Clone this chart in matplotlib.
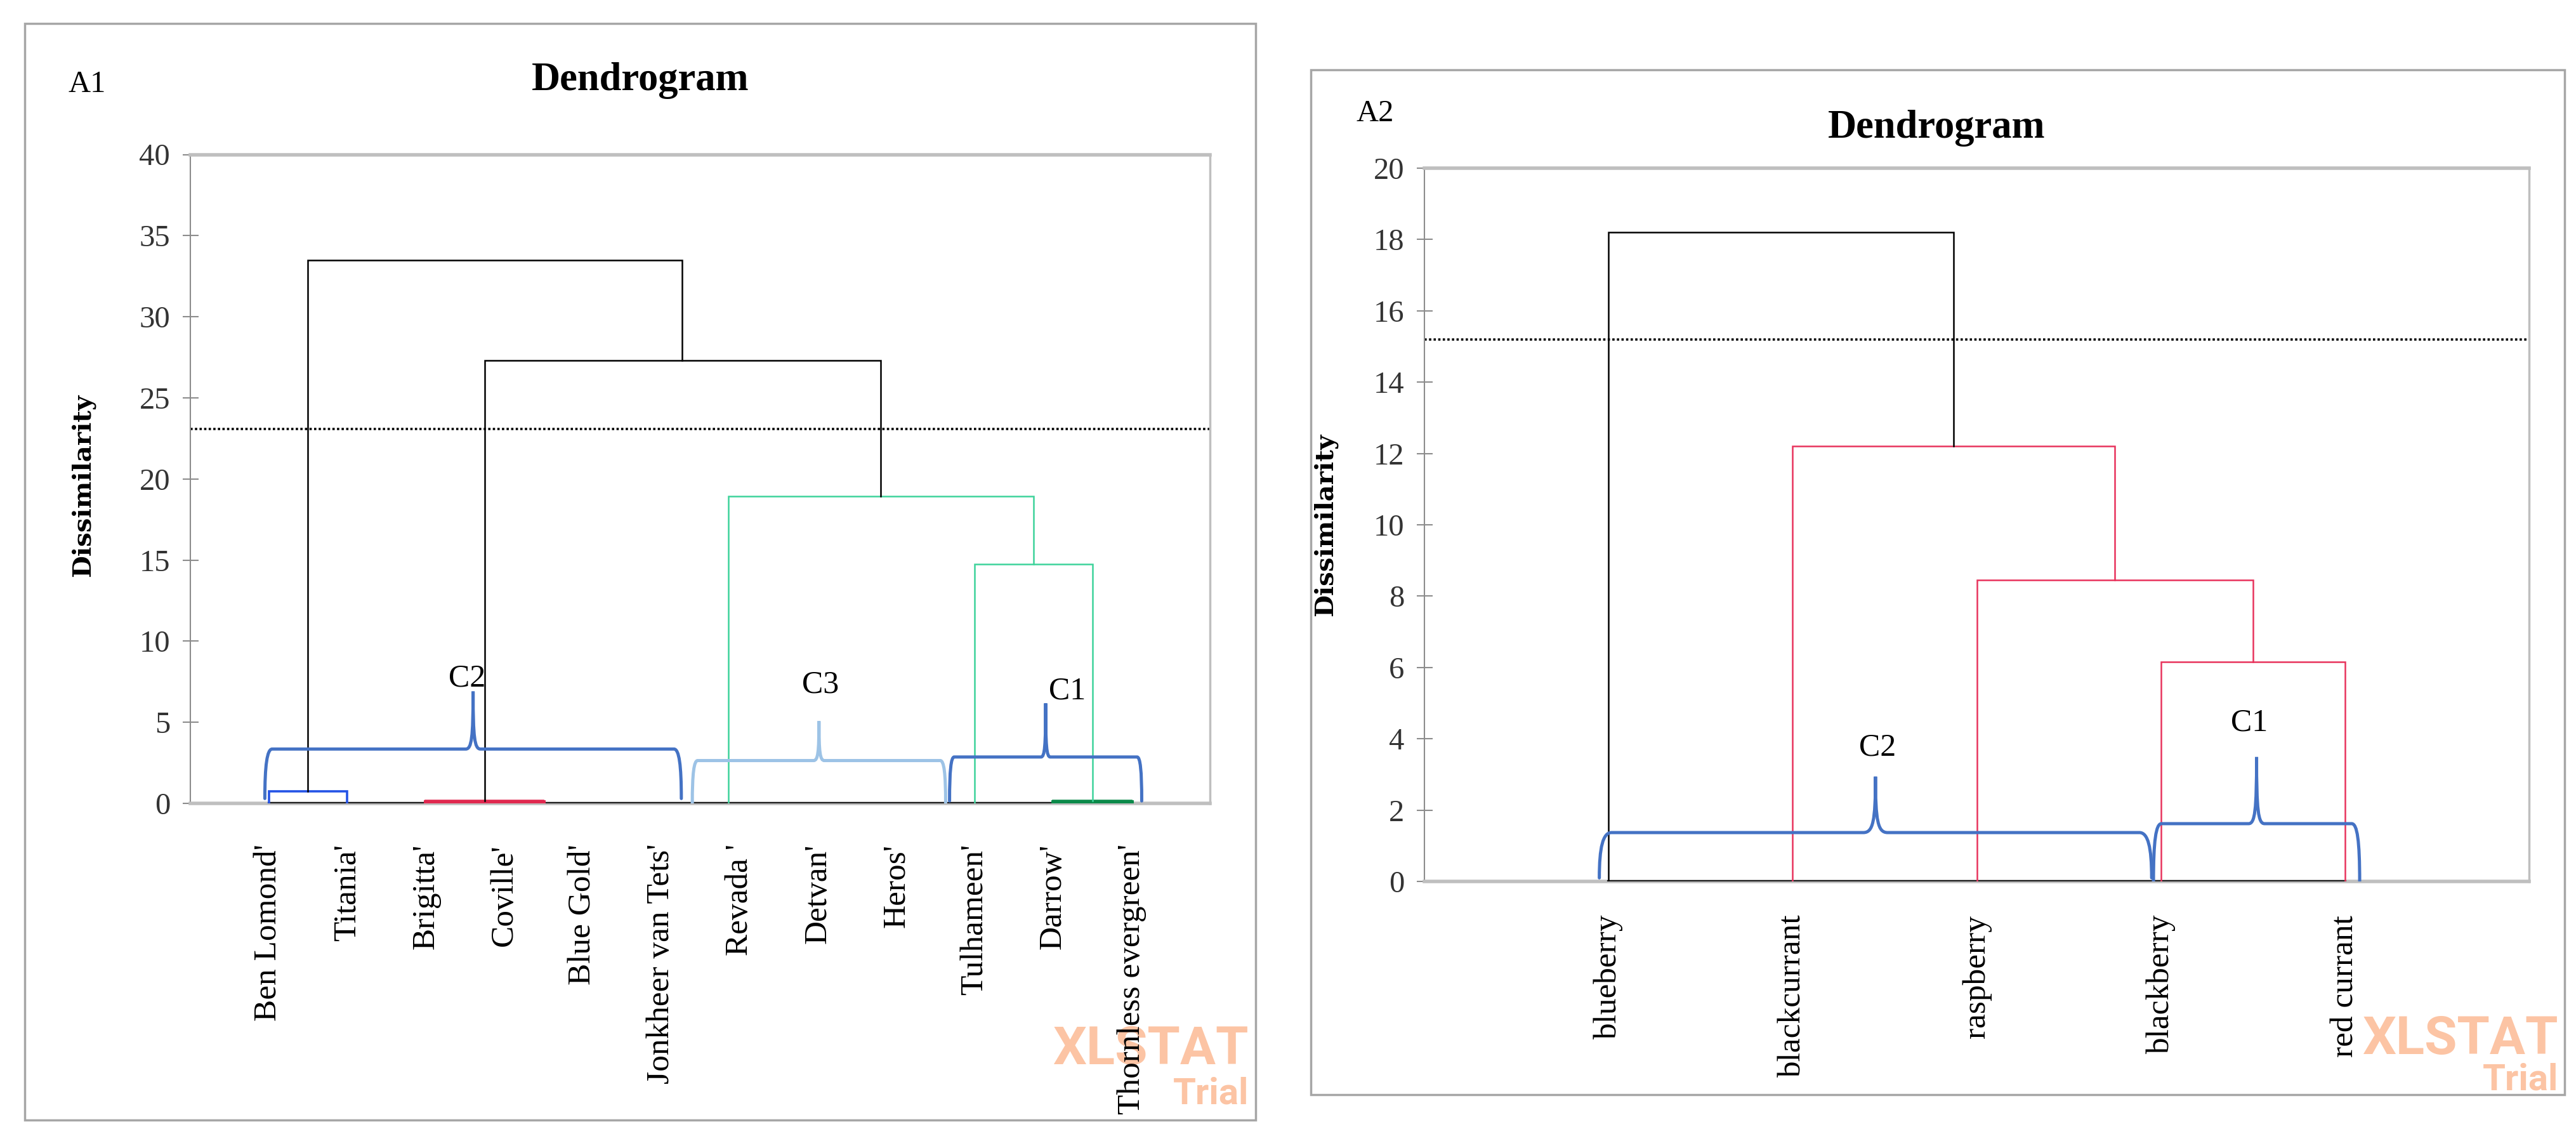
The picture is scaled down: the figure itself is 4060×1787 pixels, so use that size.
import numpy as np
import matplotlib
matplotlib.use('Agg')
import matplotlib.pyplot as plt
from matplotlib.path import Path
from matplotlib.patches import PathPatch, Rectangle

plt.rcParams['font.family'] = ['Liberation Serif', 'DejaVu Serif']

# ---- data: panel A1 (cultivars) ----
leaves_a1 = ["Ben Lomond'", "Titania'", "Brigitta'", "Coville'", "Blue Gold'",
             "Jonkheer van Tets'", "Revada '", "Detvan'", "Heros'", "Tulhameen'",
             "Darrow'", "Thornless evergreen'"]
# merges: (x left, x right, height, height of left child, height of right child, colour)
merges_a1 = [
    (0.0, 1.0, 0.75, 0.0, 0.0, '#2453E6'),
    (2.0, 3.5, 0.15, 0.0, 0.0, '#E0284F'),
    (10.0, 11.0, 0.15, 0.0, 0.0, '#0B8A4A'),
    (9.0, 10.5, 14.75, 0.0, 0.15, '#3DD39B'),
    (5.86, 9.75, 18.95, 0.0, 14.75, '#3DD39B'),
    (2.75, 7.8, 27.3, 0.15, 18.95, 'black'),
    (0.5, 5.27, 33.5, 0.75, 27.3, 'black'),
]
cut_a1 = 23.1
# braces: (x start, x end, level, tip, foot, colour, label)
braces_a1 = [
    (-0.05, 5.26, 3.35, 6.9, 0.3, '#4472C4', 'C2'),
    (5.4, 8.63, 2.64, 5.07, 0.0, '#9DC3E6', 'C3'),
    (8.68, 11.13, 2.86, 6.17, 0.15, '#4472C4', 'C1'),
]
label_pos_a1 = [(2.53, 7.7), (7.03, 7.3), (10.18, 6.9)]

# ---- data: panel A2 (species) ----
leaves_a2 = ['blueberry', 'blackcurrant', 'raspberry', 'blackberry', 'red currant']
merges_a2 = [
    (3.0, 4.0, 6.15, 0.0, 0.0, '#E8335C'),
    (2.0, 3.5, 8.45, 0.0, 6.15, '#E8335C'),
    (1.0, 2.75, 12.2, 0.0, 8.45, '#E8335C'),
    (0.0, 1.875, 18.2, 0.0, 12.2, 'black'),
]
cut_a2 = 15.2
braces_a2 = [
    (-0.05, 2.95, 1.37, 2.94, 0.1, '#4472C4', 'C2'),
    (2.96, 4.08, 1.62, 3.49, 0.0, '#4472C4', 'C1'),
]
label_pos_a2 = [(1.46, 3.75), (3.48, 4.45)]

W, H = 4060, 1787
fig = plt.figure(figsize=(W / 100, H / 100), dpi=100)


def fx(px):
    return px / W


def fy(py):
    return 1 - py / H


def brace(ax, x0, x1, lev, tip, foot, color):
    xm = (x0 + x1) / 2
    dx = (x1 - x0) * 0.012 + 0.03
    dm = (x1 - x0) * 0.012 + 0.03
    verts = [(x0, foot), (x0, lev * 0.7), (x0 + dx * 0.3, lev), (x0 + dx, lev),
             (xm - dm, lev),
             (xm - dm * 0.2, lev), (xm, lev + (tip - lev) * 0.2), (xm, tip),
             (xm, lev + (tip - lev) * 0.2), (xm + dm * 0.2, lev), (xm + dm, lev),
             (x1 - dx, lev),
             (x1 - dx * 0.3, lev), (x1, lev * 0.7), (x1, foot)]
    codes = [Path.MOVETO, Path.CURVE4, Path.CURVE4, Path.CURVE4,
             Path.LINETO,
             Path.CURVE4, Path.CURVE4, Path.CURVE4,
             Path.CURVE4, Path.CURVE4, Path.CURVE4,
             Path.LINETO,
             Path.CURVE4, Path.CURVE4, Path.CURVE4]
    ax.add_patch(PathPatch(Path(verts, codes), fill=False, edgecolor=color,
                           lw=3.6, zorder=6, capstyle='round'))


def panel(rect, leaves, merges, cut, braces, lab_pos, ymax, ystep, xpad, ypad):
    ax = fig.add_axes(rect)
    n = len(leaves)
    for xl, xr, h, hl, hr, c in merges:
        lw = 2.6 if h < 1 else 1.8
        ax.plot([xl, xl, xr, xr], [hl, h, h, hr], color=c, lw=lw,
                solid_joinstyle='miter', zorder=4)
        if h < 0.5:
            ax.plot([xl, xr], [h / 2, h / 2], color=c, lw=5, zorder=4)
    ax.plot([0, n - 1], [0, 0], color='#1a1a1a', lw=3, zorder=3)
    ax.axhline(cut, color='black', lw=2.6, ls=(0, (1, 1)), zorder=2)
    for (x0, x1, lev, tip, foot, c, lab), (lx, ly) in zip(braces, lab_pos):
        brace(ax, x0, x1, lev, tip, foot, c)
        ax.text(lx, ly, lab, fontsize=36, ha='center', va='center', zorder=7)
    ax.set_xlim(-1, n)
    ax.set_ylim(0, ymax)
    ax.set_xticks(range(n))
    ax.set_xticklabels(leaves, rotation=90, fontsize=37)
    ax.set_yticks(np.arange(0, ymax + 0.1, ystep))
    ax.tick_params(axis='x', length=0, pad=xpad)
    ax.tick_params(axis='y', direction='inout', length=18, width=1.5,
                   color='#8c8c8c', labelsize=35, labelcolor='#333333', pad=ypad)
    ax.spines['left'].set_color('#8c8c8c')
    ax.spines['left'].set_linewidth(1.5)
    for s in ('top', 'bottom'):
        ax.spines[s].set_color('#bfbfbf')
        ax.spines[s].set_linewidth(4)
    ax.spines['right'].set_color('#bfbfbf')
    ax.spines['right'].set_linewidth(2.5)
    ax.set_facecolor('none')
    return ax


# frames round each panel
fig.patches.append(Rectangle((fx(39), fy(1765)), fx(1979 - 39), (1765 - 37) / H,
                             transform=fig.transFigure, fill=False,
                             edgecolor='#a6a6a6', lw=2.5))
fig.patches.append(Rectangle((fx(2066), fy(1725)), fx(4042 - 2066), (1725 - 110) / H,
                             transform=fig.transFigure, fill=False,
                             edgecolor='#a6a6a6', lw=2.5))

ax1 = panel([fx(300), fy(1266), fx(1607), (1266 - 243.5) / H], leaves_a1, merges_a1,
            cut_a1, braces_a1, label_pos_a1, 40, 5, 46, 14)
ax2 = panel([fx(2245), fy(1389), fx(1741), (1389 - 265) / H], leaves_a2, merges_a2,
            cut_a2, braces_a2, label_pos_a2, 20, 2, 38, 14)

ax1.set_ylabel('Dissimilarity', fontsize=29, fontweight='bold', family='DejaVu Serif')
ax1.yaxis.set_label_coords(fx(150 - 300) / fx(1607), 0.49)
ax2.set_ylabel('Dissimilarity', fontsize=29, fontweight='bold', family='DejaVu Serif')
ax2.yaxis.set_label_coords(fx(2108 - 2245) / fx(1741), 0.5)

fig.text(fx(1009), fy(127), 'Dendrogram', fontsize=45, fontweight='bold',
         ha='center', va='center')
fig.text(fx(3052), fy(202), 'Dendrogram', fontsize=45, fontweight='bold',
         ha='center', va='center')
fig.text(fx(137), fy(133), 'A1', fontsize=35, ha='center', va='center')
fig.text(fx(2167), fy(179), 'A2', fontsize=35, ha='center', va='center')

# trial watermark, drawn underneath the axes so leaf labels stay on top
wm = '#fcc4a4'
for xr, yb1, yb2 in [(1968, 1677, 1739), (4032, 1661, 1718)]:
    fig.text(fx(xr), fy(yb1), 'XLSTAT', fontsize=60, fontweight='bold', color=wm,
             family='Roboto', ha='right', va='baseline', zorder=-1)
    fig.text(fx(xr), fy(yb2), 'Trial', fontsize=42, fontweight='bold', color=wm,
             family='Roboto', ha='right', va='baseline', zorder=-1)

fig.savefig('out.png', dpi=100)
